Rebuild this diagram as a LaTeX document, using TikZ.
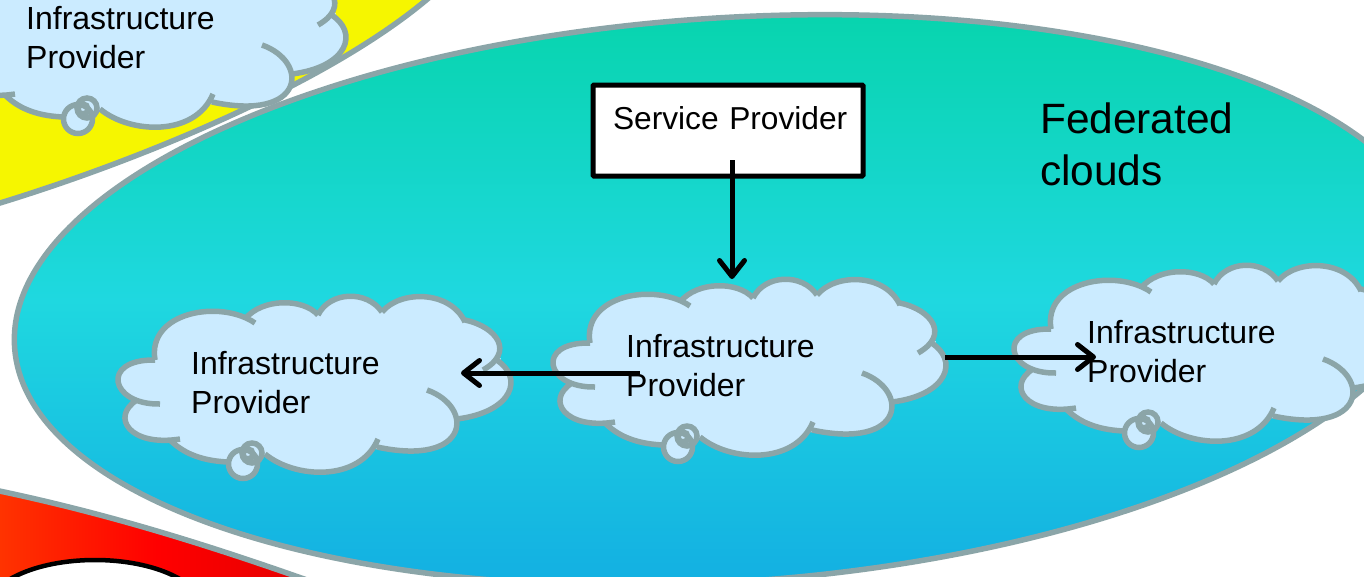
\documentclass[tikz,border=0pt]{standalone}
\usepackage{fontspec}
\setmainfont{Liberation Sans}
\usetikzlibrary{arrows.meta}
\definecolor{edgegray}{RGB}{139,165,168}
\definecolor{cloudblue}{RGB}{203,235,255}
\definecolor{fedtop}{RGB}{6,212,170}
\definecolor{fedmid}{RGB}{31,216,224}
\definecolor{fedbot}{RGB}{18,172,226}
\definecolor{sunyellow}{RGB}{246,246,0}
\newcommand{\cloudlobes}{
    (50,73) .. controls (42,25) and (115,12) .. (150,36)
    (140,32) .. controls (157,11) and (198,11) .. (213,28)
    (213,28) .. controls (225,4) and (262,3) .. (277,25)
    (277,25) .. controls (295,3) and (345,3) .. (360,35)
    (360,33) .. controls (392,40) and (410,65) .. (378,83)
    (390,72) .. controls (420,90) and (408,125) .. (352,132)
    (322,103) .. controls (370,120) and (365,180) .. (272,160)
    (273,152) .. controls (255,195) and (190,192) .. (160,167)
    (123,175) .. controls (100,174) and (80,168) .. (65,153)
    (75,152) .. controls (25,160) and (5,130) .. (32,113)
    (55,117) .. controls (5,118) and (-5,72) .. (50,73)
}
\tikzset{
    cloudtext/.style={anchor=west,align=left,inner sep=0pt,font=\fontsize{32}{39}\selectfont},
    cloudshape/.pic={
        \fill[cloudblue] (48,72) -- (140,30) -- (213,26) -- (277,23) -- (360,31) -- (396,72)
            -- (355,133) -- (272,162) -- (160,169) -- (123,177) -- (63,154) -- (30,113) -- cycle;
        \filldraw[edgeline,fill=cloudblue] \cloudlobes;
        \filldraw[edgeline,fill=cloudblue] (138,177) circle (14.5);
        \draw[edgeline] (147,166) circle (10) (143,167) circle (5);
        \node[cloudtext] (-text) at (86,96) {Infrastructure\\Provider};
    },
    edgeline/.style={draw=edgegray,line width=5.5pt},
    link/.style={-{Straight Barb[length=16pt,width=25pt,round]},line width=5pt,black},
}

\begin{document}
\begin{tikzpicture}[x=1pt,y=-1pt]
    \useasboundingbox (0,0) rectangle (1364,576);
    \clip (0,0) rectangle (1364,576);

    \draw[edgeline,fill=sunyellow] (-20,209) .. controls (130,165) and (340,80) .. (440,-12) -- (-20,-12) -- cycle;
    \draw[edgeline,left color=orange!45!red,right color=red!88!black,middle color=red]
        (-20,487) .. controls (100,511) and (210,545) .. (335,590) -- (-20,590) -- cycle;
    \draw[black,line width=4.5pt,fill=white] (95,610) ellipse [x radius=108pt,y radius=50pt];

    \draw[edgeline,top color=fedtop,bottom color=fedbot,middle color=fedmid]
        (725,300) ellipse [x radius=712pt,y radius=282pt,rotate=3.8];

    \pic (C0) at (-60,-58) {cloudshape};
    \pic (C1) at (105,287) {cloudshape};
    \pic (C2) at (540,270) {cloudshape};
    \pic (C3) at (1001,256) {cloudshape};

    \node[draw,line width=5pt,fill=white,rounded corners=1pt,inner sep=0pt,
          text width=270pt,align=left,text height=44pt,text depth=47pt,
          font=\fontsize{31.7}{39}\selectfont] (SP) at (728,130.5) {\hspace*{20pt}Service Provider};
    \node[anchor=west,align=left,inner sep=0pt,font=\fontsize{42.4}{52}\selectfont] (FED) at (1040,144.5) {Federated\\clouds};

    \coordinate (SPout) at (732,160);
    \coordinate (C2top) at (732,279);
    \coordinate (C2left) at (640,373);
    \coordinate (C1right) at (461,373);
    \coordinate (C2right) at (945,357);
    \coordinate (C3left) at (1096,357);

    \draw[link] (SPout) -- (C2top);
    \draw[link] (C2left) -- (C1right);
    \draw[link] (C2right) -- (C3left);
\end{tikzpicture}
\end{document}
